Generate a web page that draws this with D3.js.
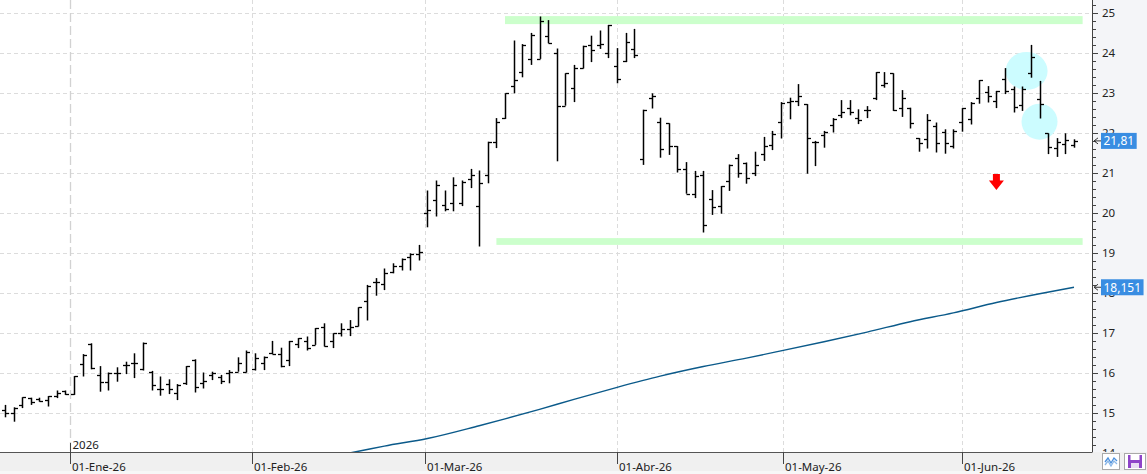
<!DOCTYPE html>
<html><head><meta charset="utf-8">
<script src="https://cdn.jsdelivr.net/npm/d3@7"></script>
<style>
html,body{margin:0;padding:0;background:#fff;overflow:hidden;}
svg{display:block;font-family:"Segoe UI","Noto Sans","Open Sans",sans-serif;}
</style></head><body>
<svg id="chart" width="1147" height="474"></svg>
<script>
// ---------- DATA ----------
const firstDay = "2025-12-18";
const holidays = ["2025-12-25","2025-12-26","2026-01-01","2026-04-03","2026-04-06","2026-05-01"];

const openVals = [15.08,15.02,15.21,15.38,15.35,15.33,15.43,15.57,15.48,16.23,
16.73,15.96,15.79,16.02,16.21,16.27,16.10,16.04,15.62,15.73,
15.52,15.75,16.33,15.75,15.96,15.92,16.02,16.04,16.04,16.10,
16.25,16.52,16.48,16.33,16.73,16.81,16.71,17.15,16.81,17.00,
17.12,17.19,17.82,18.28,18.23,18.54,18.68,18.90,18.98,20.01,
20.32,20.22,20.26,20.26,20.86,20.19,20.97,21.78,22.38,23.17,
23.53,23.86,23.86,24.44,24.01,22.69,23.13,23.63,24.21,24.22,
24.00,23.69,23.80,24.11,21.36,22.88,22.29,22.25,21.68,21.10,
20.49,20.96,20.35,20.17,20.81,21.38,21.25,21.00,21.48,21.70,
22.28,22.78,22.81,22.73,21.78,21.96,22.21,22.45,22.62,22.38,
22.58,22.87,23.21,23.50,22.63,22.64,21.87,21.85,22.17,22.04,
21.68,22.28,22.35,22.89,23.04,22.81,23.35,23.10,22.71,23.50,
22.85,22.00,21.62,21.73,21.71];
const highVals = [15.21,15.15,15.40,15.39,15.39,15.43,15.57,15.57,15.93,16.48,
16.75,16.18,16.02,16.15,16.29,16.50,16.77,16.06,15.92,15.85,
15.73,16.18,16.35,16.02,16.04,15.96,16.08,16.40,16.57,16.50,
16.42,16.81,16.64,16.81,16.88,16.92,17.13,17.25,17.00,17.25,
17.33,17.65,18.21,18.38,18.62,18.75,18.87,19.00,19.21,20.57,
20.82,20.57,20.90,20.82,21.11,21.07,21.79,22.38,23.00,24.32,
24.23,24.51,24.92,24.83,24.12,23.50,23.71,24.19,24.44,24.57,
24.71,24.13,24.51,24.61,22.59,23.00,22.39,22.25,21.68,21.28,
21.06,21.06,20.58,20.68,21.22,21.48,21.27,21.54,21.91,22.06,
22.78,22.89,23.23,22.73,21.81,22.06,22.38,22.83,22.83,22.60,
22.68,23.53,23.53,23.50,23.08,22.64,21.88,22.48,22.27,22.10,
22.10,22.63,22.78,23.33,23.18,23.06,23.63,23.17,23.17,24.21,
23.31,22.00,21.88,22.00,21.85];
const lowVals = [14.90,14.79,15.13,15.21,15.29,15.17,15.38,15.46,15.46,15.92,
16.10,15.54,15.57,15.79,15.98,15.88,16.07,15.57,15.44,15.48,
15.33,15.71,15.52,15.62,15.83,15.73,15.75,16.04,16.02,16.07,
16.08,16.48,16.15,16.18,16.63,16.57,16.71,16.67,16.63,16.92,
16.93,17.17,17.32,17.94,18.08,18.50,18.57,18.57,18.82,19.65,
19.92,20.05,20.05,20.18,20.63,19.17,20.75,21.63,22.36,23.00,
23.40,23.71,23.86,24.25,21.30,22.69,22.78,23.62,23.78,24.11,
23.88,23.25,23.78,23.88,21.21,22.62,21.39,21.46,21.02,20.49,
20.38,19.52,19.96,19.99,20.56,20.89,20.74,20.93,21.31,21.58,
21.87,22.35,22.68,20.99,21.18,21.64,22.02,22.38,22.45,22.23,
22.38,22.83,23.14,22.56,22.41,22.12,21.54,21.62,21.52,21.49,
21.62,22.04,22.22,22.74,22.77,22.63,22.98,22.52,22.56,23.39,
22.37,21.48,21.41,21.48,21.64];
const closeVals = [15.00,15.13,15.40,15.29,15.32,15.43,15.50,15.48,15.93,16.47,
16.13,15.79,16.00,16.02,16.21,16.25,16.75,15.71,15.62,15.60,
15.71,16.17,15.67,15.82,16.00,15.82,16.04,16.25,16.54,16.38,
16.40,16.49,16.17,16.81,16.88,16.63,17.13,16.67,17.00,17.12,
17.15,17.65,18.18,18.29,18.52,18.68,18.85,18.98,19.03,20.08,
20.72,20.11,20.72,20.78,20.97,20.76,21.78,22.28,23.00,23.33,
24.22,24.47,24.80,24.26,22.69,23.50,23.63,24.19,24.09,24.23,
24.71,23.36,24.29,23.97,22.59,22.93,21.60,21.67,21.10,20.49,
20.93,19.70,20.16,20.68,21.22,21.00,20.88,21.20,21.68,21.99,
22.77,22.81,22.92,21.89,21.79,22.04,22.35,22.53,22.53,22.33,
22.58,23.53,23.25,22.58,22.88,22.27,21.75,22.33,21.75,21.75,
22.06,22.63,22.77,23.33,22.92,23.06,23.06,22.66,23.10,23.91,
22.74,21.66,21.78,21.83,21.81];

// moving average, read at sample bars
const maIndex  = [38,41,44,49,55,58,62,66,71,76,81,86,90,95,100,105,110,115,120,124];
const maValues = [13.93,14.05,14.18,14.37,14.69,14.86,15.10,15.35,15.65,15.93,16.17,16.38,16.56,16.79,17.03,17.29,17.51,17.77,17.99,18.151];

const yTicks = [14,15,16,17,18,19,20,21,22,23,24,25];
const monthDates  = ["2026-01-01","2026-02-01","2026-03-01","2026-04-01","2026-05-01","2026-06-01"];
const monthLabels = ["01-Ene-26","01-Feb-26","01-Mar-26","01-Abr-26","01-May-26","01-Jun-26"];
const yearLabel = "2026";

// horizontal bands (resistance / support) : [fromBar, toBar, low, high]
const resistanceBand = [58, 125, 24.73, 24.93];
const supportBand    = [57, 125, 19.21, 19.38];
// highlighted ellipses: [bar, value, rx, ry]
const highlights = [[118.5, 23.56, 21, 19], [120, 22.29, 18, 18]];
// down arrow: [bar, topValue]
const downArrow = [115, 20.98];
const lastLabel = "21,81";
const maLabel = "18,151";

// ---------- CALENDAR ----------
function parseD(s){const [a,b,c]=s.split("-").map(Number);return Date.UTC(a,b-1,c);}
const DAY = 86400000;
const hol = new Set(holidays.map(parseD));
const n = openVals.length;
const dates = [];
for (let t = parseD(firstDay); dates.length < n; t += DAY) {
  const wd = new Date(t).getUTCDay();
  if (wd === 0 || wd === 6 || hol.has(t)) continue;
  dates.push(t);
}
function datePos(t){
  for (let i=0;i<n-1;i++){
    if (dates[i] <= t && t < dates[i+1]) return i + (t-dates[i])/(dates[i+1]-dates[i]);
  }
  return n-1;
}

// ---------- LAYOUT ----------
const W = 1147, H = 474;
const plotR = 1092, plotB = 452;
const svg = d3.select("#chart");
const x = d3.scaleLinear().domain([0, n-1]).range([5, 1074]);
const y = d3.scaleLinear().domain([14, 25]).range([453.3, 13.3]);

svg.append("rect").attr("width",W).attr("height",H).attr("fill","#ffffff");
svg.append("rect").attr("x",plotR).attr("y",0).attr("width",W-plotR).attr("height",plotB).attr("fill","#f4f5f8");

svg.append("defs").append("clipPath").attr("id","plotclip")
  .append("rect").attr("x",0).attr("y",0).attr("width",plotR).attr("height",plotB);
const g = svg.append("g").attr("clip-path","url(#plotclip)");

// grid
g.selectAll("line.hg").data(yTicks.filter(v=>v>14)).enter().append("line")
  .attr("x1",0).attr("x2",plotR)
  .attr("y1",d=>Math.round(y(d))+0.5).attr("y2",d=>Math.round(y(d))+0.5)
  .attr("stroke","#dcdcdc").attr("stroke-width",1).attr("stroke-dasharray","4,3");
const monthPos = monthDates.map(s=>datePos(parseD(s)));
g.selectAll("line.vg").data(monthPos).enter().append("line")
  .attr("x1",d=>Math.round(x(d))+0.5).attr("x2",d=>Math.round(x(d))+0.5)
  .attr("y1",0).attr("y2",plotB)
  .attr("stroke",(d,i)=>i===0?"#d2d2d2":"#dcdcdc")
  .attr("stroke-width",(d,i)=>i===0?1.3:1)
  .attr("stroke-dasharray",(d,i)=>i===0?"9,4":"4,3");

// bands
[resistanceBand, supportBand].forEach(b=>{
  g.append("rect").attr("x",x(b[0])).attr("width",x(b[1])-x(b[0]))
    .attr("y",y(b[3])).attr("height",y(b[2])-y(b[3])).attr("fill","#ccffcc");
});
// highlight ellipses
g.selectAll("ellipse").data(highlights).enter().append("ellipse")
  .attr("cx",d=>x(d[0])).attr("cy",d=>y(d[1])).attr("rx",d=>d[2]).attr("ry",d=>d[3])
  .attr("fill","#ccfcff");

// moving average
const maPts = maIndex.map((i,k)=>[i, maValues[k]]);
g.append("path").datum(maPts)
  .attr("d", d3.line().x(d=>x(d[0])).y(d=>y(d[1])).curve(d3.curveMonotoneX))
  .attr("fill","none").attr("stroke","#0b5a8a").attr("stroke-width",1.4);

// OHLC bars
const bars = d3.range(n).map(i=>({i,o:openVals[i],h:highVals[i],l:lowVals[i],c:closeVals[i]}));
const bg = g.append("g").attr("stroke","#000");
bars.forEach(b=>{
  const cx = Math.round(x(b.i))+0.5;
  bg.append("line").attr("x1",cx).attr("x2",cx).attr("y1",y(b.h)).attr("y2",y(b.l)).attr("stroke-width",1.5);
  const yo = Math.round(y(b.o))+0.5, yc = Math.round(y(b.c))+0.5;
  bg.append("line").attr("x1",cx-3.5).attr("x2",cx).attr("y1",yo).attr("y2",yo).attr("stroke-width",1.3);
  bg.append("line").attr("x1",cx).attr("x2",cx+3.5).attr("y1",yc).attr("y2",yc).attr("stroke-width",1.3);
});

// down arrow
{
  const ax = x(downArrow[0]), ay = y(downArrow[1]);
  g.append("path").attr("d",
    `M${ax-3.5},${ay} L${ax+3.5},${ay} L${ax+3.5},${ay+6.5} L${ax+7.5},${ay+6.5} L${ax},${ay+16} L${ax-7.5},${ay+6.5} L${ax-3.5},${ay+6.5} Z`)
    .attr("fill","#ff0000");
}

// ---------- Y AXIS ----------
const ax = svg.append("g");
ax.append("line").attr("x1",plotR+0.5).attr("x2",plotR+0.5).attr("y1",0).attr("y2",plotB)
  .attr("stroke","#444").attr("stroke-width",1);
const minor = d3.range(14, 25.41, 0.2).map(v=>+v.toFixed(1));
ax.selectAll("line.mt").data(minor).enter().append("line")
  .attr("x1",plotR).attr("x2",d=>Math.abs(d-Math.round(d))<0.01?plotR+6:plotR+4)
  .attr("y1",d=>Math.round(y(d))+0.5).attr("y2",d=>Math.round(y(d))+0.5)
  .attr("stroke","#444").attr("stroke-width",1);
ax.selectAll("text.yl").data(yTicks).enter().append("text")
  .attr("x",1102).attr("y",d=>y(d)).attr("dy","0.35em")
  .attr("font-size","11.5px").attr("fill","#222").text(d=>d);

// value labels
function valueLabel(v, txt){
  const yy = y(v);
  svg.append("path").attr("d",`M${plotR+6},${yy-3} L${plotR+2},${yy} L${plotR+6},${yy+3} M${plotR+2},${yy} L${plotR+9},${yy}`)
    .attr("stroke","#333").attr("fill","none").attr("stroke-width",1);
  const box = svg.append("rect").attr("x",1101).attr("y",yy-8).attr("height",16).attr("fill","#398de2");
  const t = svg.append("text").attr("x",1103.5).attr("y",yy).attr("dy","0.36em")
    .attr("font-size","12px").attr("fill","#fff").text(txt);
  box.attr("width", t.node().getComputedTextLength()+5);
}
valueLabel(closeVals[n-1], lastLabel);
valueLabel(maValues[maValues.length-1], maLabel);

// year marker
{
  const px = Math.round(x(monthPos[0]))+0.5;
  svg.append("line").attr("x1",px).attr("x2",px).attr("y1",443).attr("y2",plotB).attr("stroke","#444");
  svg.append("text").attr("x",px+2).attr("y",449).attr("font-size","11.5px").attr("fill","#222").text(yearLabel);
}

// ---------- X AXIS ----------
svg.append("rect").attr("x",0).attr("y",plotB).attr("width",W).attr("height",H-plotB).attr("fill","#f0f0f0");
svg.append("rect").attr("x",0).attr("y",H-3).attr("width",W).attr("height",3).attr("fill","#f7f7f7");
svg.append("line").attr("x1",0).attr("x2",plotR+0.5).attr("y1",plotB+0.5).attr("y2",plotB+0.5)
  .attr("stroke","#555").attr("stroke-width",1.2);
svg.selectAll("line.xt").data(monthPos).enter().append("line")
  .attr("x1",d=>Math.round(x(d))+0.5).attr("x2",d=>Math.round(x(d))+0.5)
  .attr("y1",plotB).attr("y2",plotB+12).attr("stroke","#444");
svg.selectAll("text.xl").data(monthPos).enter().append("text")
  .attr("x",d=>Math.round(x(d))+2).attr("y",471)
  .attr("font-size","11.5px").attr("fill","#222").text((d,i)=>monthLabels[i]);

// ---------- buttons ----------
{
  const b1 = svg.append("g");
  b1.append("rect").attr("x",1102.5).attr("y",453.5).attr("width",17).attr("height",16).attr("fill","#fff").attr("stroke","#a9a9a9");
  b1.append("path").attr("d","M1105,462 L1108,458 L1111,463 L1114,458 L1117,461").attr("fill","none").attr("stroke","#4a8fdc").attr("stroke-width",1.3);
  b1.append("path").attr("d","M1105,465 L1108,461 L1111,466 L1114,461 L1117,464").attr("fill","none").attr("stroke","#8cb8e8").attr("stroke-width",1.3);
  const b2 = svg.append("g");
  b2.append("rect").attr("x",1124.5).attr("y",453.5).attr("width",21).attr("height",16).attr("fill","#fff").attr("stroke","#a9a9a9");
  b2.append("rect").attr("x",1128).attr("y",455).attr("width",14).attr("height",13).attr("fill","#8e44c8");
  b2.append("rect").attr("x",1130.5).attr("y",455).attr("width",9).attr("height",5).attr("fill","#ffffff");
  b2.append("rect").attr("x",1131).attr("y",463).attr("width",8).attr("height",5).attr("fill","#e8dcf3");
}
</script>
</body></html>
